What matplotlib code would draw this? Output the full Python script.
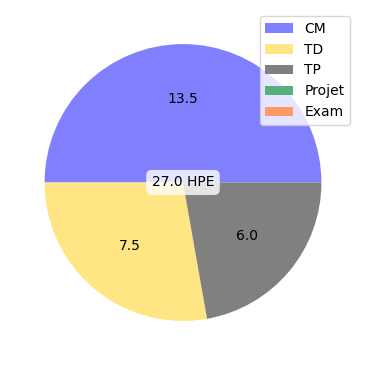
import matplotlib
matplotlib.use("Agg")
import matplotlib.pyplot as plt

labels = ["CM", "TD", "TP", "Projet", "Exam"]
hours = [13.5, 7.5, 6.0, 0.0, 0.0]
colors = ["#8080ff", "#ffe584", "#808080", "#57ae7f", "#ff9966"]

total = sum(hours)

def show_value(pct):
    val = pct * total / 100
    if val <= 0:
        return ""
    return "%.1f" % val

fig = plt.figure(figsize=(3.66, 3.66), dpi=100)
ax = fig.add_axes([0.0273, 0.0287, 0.9454, 0.9454])
wedges, texts, autotexts = ax.pie(hours, colors=colors, autopct=show_value)
ax.text(0, 0, "%.1f HPE" % total, ha="center", va="center", fontsize=10,
        bbox=dict(boxstyle="round,pad=0.4", facecolor="white", edgecolor="none", alpha=0.8))

fig.legend(wedges, labels, loc="upper right", bbox_to_anchor=(350 / 366, 1 - 16 / 366),
           borderaxespad=0)

fig.savefig("out.png")
